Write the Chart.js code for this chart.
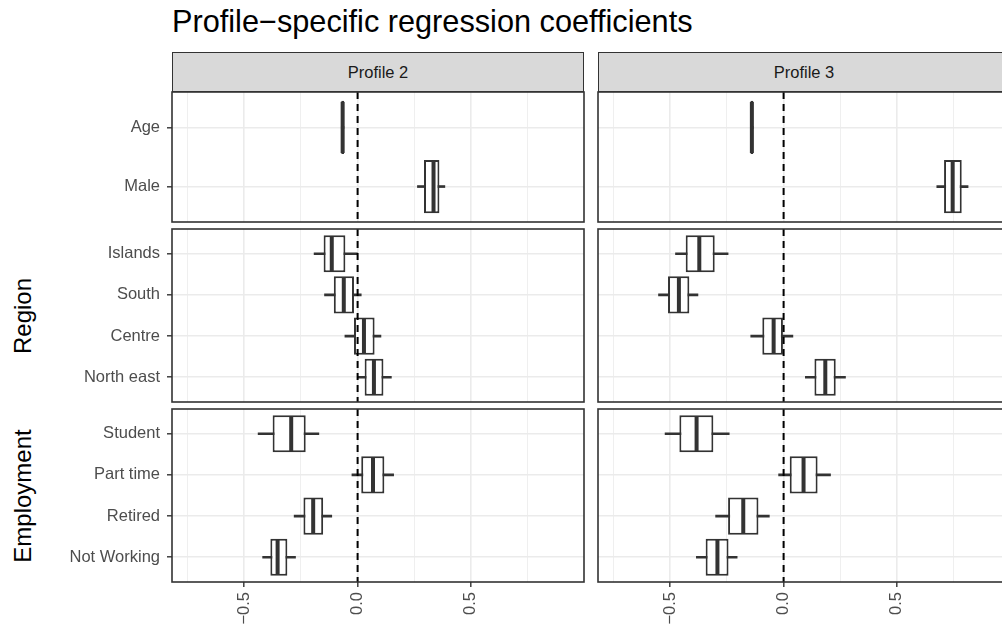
<!DOCTYPE html>
<html>
<head>
<meta charset="utf-8">
<script src="https://cdn.jsdelivr.net/npm/chart.js@4"></script>
<style>
  body { margin: 0; background: #fff; }
  #wrap { position: relative; width: 1002px; height: 637px; overflow: hidden;
          font-family: "Liberation Sans", Arial, sans-serif; }
  canvas { position: absolute; }
  .title { position: absolute; left: 172px; top: 7px; font-size: 30.7px; line-height: 30px;
           color: #000; white-space: nowrap; }
  .strip { position: absolute; top: 52px; height: 40px; box-sizing: border-box;
           border: 1.6px solid #333; background: #d9d9d9; color: #1a1a1a; font-size: 16.5px;
           display: flex; align-items: center; justify-content: center; }
  .rowlab { position: absolute; left: 23px; font-size: 24px; color: #000; white-space: nowrap;
            transform: translate(-50%, -50%) rotate(-90deg); }
</style>
</head>
<body>
<div id="wrap">
  <div class="title">Profile−specific regression coefficients</div>
</div>
<script>
const profiles = ["Profile 2", "Profile 3"];
const rowGroups = ["", "Region", "Employment"];
const rowCategories = [
  ["Age", "Male"],
  ["Islands", "South", "Centre", "North east"],
  ["Student", "Part time", "Retired", "Not Working"]
];
const xTicks = [-0.5, 0, 0.5];

// order: Age, Male, Islands, South, Centre, North east, Student, Part time, Retired, Not Working
const p2Min = [-0.072, 0.264, -0.192, -0.146, -0.056, 0.001, -0.439, -0.025, -0.280, -0.419];
const p2Q1  = [-0.072, 0.293, -0.150, -0.105, -0.016, 0.031, -0.375,  0.016, -0.239, -0.385];
const p2Med = [-0.066, 0.335, -0.114, -0.061,  0.028, 0.072, -0.293,  0.068, -0.196, -0.353];
const p2Q3  = [-0.060, 0.361, -0.054, -0.016,  0.075, 0.114, -0.229,  0.118, -0.152, -0.310];
const p2Max = [-0.060, 0.385, -0.001,  0.016,  0.103, 0.149, -0.171,  0.159, -0.114, -0.274];

const p3Min = [-0.146, 0.676, -0.477, -0.552, -0.145, 0.096, -0.523, -0.022, -0.300, -0.385];
const p3Q1  = [-0.146, 0.708, -0.432, -0.510, -0.094, 0.136, -0.460,  0.027, -0.245, -0.344];
const p3Med = [-0.140, 0.746, -0.372, -0.462, -0.044, 0.184, -0.384,  0.088, -0.178, -0.292];
const p3Q3  = [-0.134, 0.786, -0.304, -0.416, -0.003, 0.230, -0.310,  0.150, -0.111, -0.243];
const p3Max = [-0.134, 0.814, -0.245, -0.378,  0.041, 0.273, -0.240,  0.207, -0.063, -0.205];

const stats = [
  { min: p2Min, q1: p2Q1, med: p2Med, q3: p2Q3, max: p2Max },
  { min: p3Min, q1: p3Q1, med: p3Med, q3: p3Q3, max: p3Max }
];

// panel geometry (pixels)
const rowsPx = [{ top: 92, h: 130 }, { top: 229, h: 173 }, { top: 409, h: 173 }];
const colsPx = [{ left: 172, w: 412 }, { left: 598, w: 412 }];
const FONT = "'Liberation Sans', Arial, sans-serif";

const wrap = document.getElementById("wrap");

// strips on top
profiles.forEach((p, c) => {
  const d = document.createElement("div");
  d.className = "strip";
  d.style.left = colsPx[c].left + "px";
  d.style.width = colsPx[c].w + "px";
  d.textContent = p;
  wrap.appendChild(d);
});

// row labels on the left
rowGroups.forEach((g, r) => {
  if (!g) return;
  const d = document.createElement("div");
  d.className = "rowlab";
  d.style.top = (rowsPx[r].top + rowsPx[r].h / 2) + "px";
  d.textContent = g;
  wrap.appendChild(d);
});

const isMajor = (v) => Math.abs(v / 0.5 - Math.round(v / 0.5)) < 1e-6;
const fmt = (v) => (v < 0 ? "\u2212" : "") + Math.abs(v).toFixed(1);

// zero line, medians and panel border
const boxExtras = {
  id: "boxExtras",
  afterDatasetsDraw(chart) {
    const { ctx, chartArea: a, scales: { x, y } } = chart;
    const x0 = x.getPixelForValue(0);
    ctx.save();
    ctx.strokeStyle = "#000";
    ctx.lineWidth = 2;
    ctx.setLineDash([7, 5]);
    ctx.beginPath();
    ctx.moveTo(x0, a.top);
    ctx.lineTo(x0, a.bottom);
    ctx.stroke();
    ctx.setLineDash([]);

    const ds = chart.data.datasets[0];
    const meta = chart.getDatasetMeta(0);
    ctx.strokeStyle = "#333";
    ctx.lineWidth = 4;
    ds.medians.forEach((m, i) => {
      const el = meta.data[i];
      const px = x.getPixelForValue(m);
      const py = y.getPixelForValue(i);
      const h = el.height / 2;
      ctx.beginPath();
      ctx.moveTo(px, py - h + 1);
      ctx.lineTo(px, py + h - 1);
      ctx.stroke();
    });

    ctx.strokeStyle = "#333";
    ctx.lineWidth = 1.6;
    ctx.strokeRect(a.left, a.top, a.right - a.left, a.bottom - a.top);
    ctx.restore();
  }
};

const offsets = [];
rowCategories.reduce((acc, cats) => { offsets.push(acc); return acc + cats.length; }, 0);

function makePanel(col, row) {
  const cats = rowCategories[row];
  const idx = cats.map((_, i) => offsets[row] + i);
  const s = stats[col];
  const leftAxis = col === 0;
  const bottomAxis = row === rowCategories.length - 1;
  const L = leftAxis ? 172 : 2;
  const B = bottomAxis ? 55 : 2;

  const c = document.createElement("canvas");
  c.width = colsPx[col].w + L + 2;
  c.height = rowsPx[row].h + 2 + B;
  c.style.left = (colsPx[col].left - L) + "px";
  c.style.top = (rowsPx[row].top - 2) + "px";
  wrap.appendChild(c);

  new Chart(c, {
    type: "bar",
    data: {
      datasets: [
        {
          label: "box",
          data: idx.map((k, i) => ({ x: [s.q1[k], s.q3[k]], y: i })),
          medians: idx.map((k) => s.med[k]),
          backgroundColor: "#fff",
          borderColor: "#333",
          borderWidth: 2,
          borderSkipped: false,
          grouped: false,
          barPercentage: 0.9,
          categoryPercentage: 1
        },
        {
          label: "whisker",
          data: idx.map((k, i) => ({ x: [s.min[k], s.max[k]], y: i })),
          backgroundColor: "#333",
          borderWidth: 0,
          grouped: false,
          barThickness: 2
        }
      ]
    },
    options: {
      indexAxis: "y",
      responsive: false,
      animation: false,
      devicePixelRatio: 1,
      layout: { padding: { top: 2, right: 2, left: leftAxis ? 0 : 2, bottom: bottomAxis ? 0 : 2 } },
      plugins: { legend: { display: false }, tooltip: { enabled: false } },
      scales: {
        x: {
          type: "linear",
          min: -0.819,
          max: 0.999,
          border: { display: false },
          afterFit: (sc) => {
            sc.height = bottomAxis ? 55 : 0;
            sc.paddingLeft = 0; sc.paddingRight = 0;
          },
          grid: {
            color: "#ebebeb",
            lineWidth: (ctx) => (isMajor(ctx.tick.value) ? 1.6 : 0.8),
            drawTicks: bottomAxis,
            tickLength: 5,
            tickWidth: 1.4,
            tickColor: (ctx) => (isMajor(ctx.tick.value) ? "#333" : "rgba(0,0,0,0)")
          },
          ticks: {
            display: bottomAxis,
            stepSize: 0.25,
            includeBounds: false,
            autoSkip: false,
            minRotation: 90,
            maxRotation: 90,
            padding: 5,
            color: "#4d4d4d",
            font: { size: 16.5, family: FONT },
            callback: (v) => (xTicks.some((t) => Math.abs(t - v) < 1e-6) ? fmt(v) : "")
          }
        },
        y: {
          type: "linear",
          reverse: true,
          offset: false,
          min: -0.6,
          max: cats.length - 0.4,
          border: { display: false },
          afterBuildTicks: (sc) => { sc.ticks = cats.map((_, i) => ({ value: i })); },
          afterFit: (sc) => {
            sc.width = leftAxis ? 172 : 0;
            sc.paddingTop = 0; sc.paddingBottom = 0;
          },
          grid: {
            offset: false,
            color: "#ebebeb",
            lineWidth: 1.6,
            drawTicks: leftAxis,
            tickLength: 5,
            tickWidth: 1.4,
            tickColor: "#333"
          },
          ticks: {
            display: leftAxis,
            autoSkip: false,
            padding: 7,
            color: "#4d4d4d",
            font: { size: 16.5, family: FONT },
            callback: (v) => cats[v] ?? ""
          }
        }
      }
    },
    plugins: [boxExtras]
  });
}

for (let r = 0; r < rowCategories.length; r++) {
  for (let c = 0; c < profiles.length; c++) makePanel(c, r);
}
</script>
</body>
</html>
